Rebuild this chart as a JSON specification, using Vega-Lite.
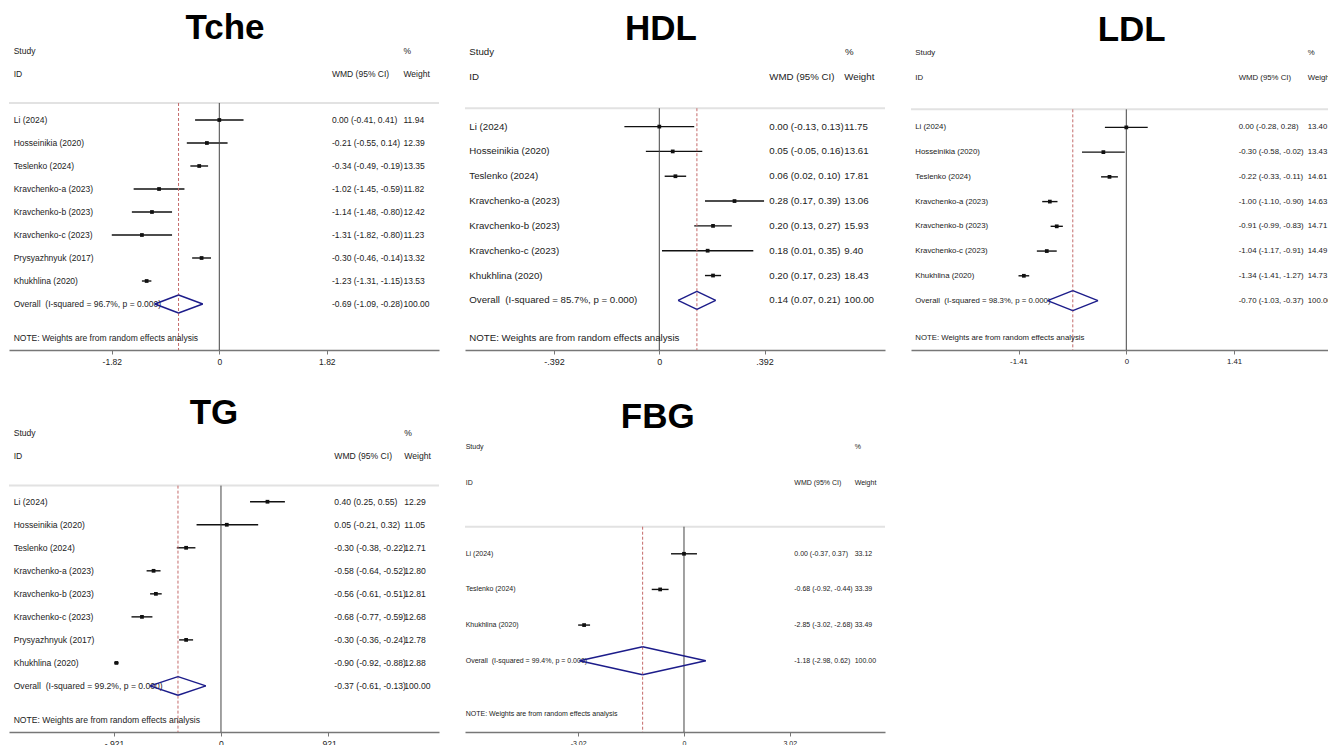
{
"$schema": "https://vega.github.io/schema/vega-lite/v6.json",
"padding": {"left": 8, "top": 0, "right": 0, "bottom": 0},
"bounds": "flush",
"columns": 3,
"spacing": {"row": 32, "column": 26},
"config": {
  "view": {"stroke": null},
  "font": "Liberation Sans",
  "axis": {"domainColor": "#777", "domainWidth": 1.6, "tickColor": "#777", "tickWidth": 1, "tickSize": 4, "labelPadding": 3, "grid": false, "labelColor": "#222", "labelFont": "Liberation Sans", "labelFlush": false, "labelOverlap": false, "titleOpacity": 0},
  "text": {"align": "left", "baseline": "middle", "color": "#222"}
},
"datasets": {
  "tche": [
    {"study": "Li (2024)", "row": 1, "est": 0.00, "lo": -0.41, "hi": 0.41, "ci": "0.00 (-0.41, 0.41)", "w": "11.94", "overall": false},
    {"study": "Hosseinikia (2020)", "row": 2, "est": -0.21, "lo": -0.55, "hi": 0.14, "ci": "-0.21 (-0.55, 0.14)", "w": "12.39", "overall": false},
    {"study": "Teslenko (2024)", "row": 3, "est": -0.34, "lo": -0.49, "hi": -0.19, "ci": "-0.34 (-0.49, -0.19)", "w": "13.35", "overall": false},
    {"study": "Kravchenko-a (2023)", "row": 4, "est": -1.02, "lo": -1.45, "hi": -0.59, "ci": "-1.02 (-1.45, -0.59)", "w": "11.82", "overall": false},
    {"study": "Kravchenko-b (2023)", "row": 5, "est": -1.14, "lo": -1.48, "hi": -0.80, "ci": "-1.14 (-1.48, -0.80)", "w": "12.42", "overall": false},
    {"study": "Kravchenko-c (2023)", "row": 6, "est": -1.31, "lo": -1.82, "hi": -0.80, "ci": "-1.31 (-1.82, -0.80)", "w": "11.23", "overall": false},
    {"study": "Prysyazhnyuk (2017)", "row": 7, "est": -0.30, "lo": -0.46, "hi": -0.14, "ci": "-0.30 (-0.46, -0.14)", "w": "13.32", "overall": false},
    {"study": "Khukhlina (2020)", "row": 8, "est": -1.23, "lo": -1.31, "hi": -1.15, "ci": "-1.23 (-1.31, -1.15)", "w": "13.53", "overall": false},
    {"study": "Overall \u00a0(I-squared = 96.7%, p = 0.000)", "row": 9, "est": -0.69, "lo": -1.09, "hi": -0.28, "ci": "-0.69 (-1.09, -0.28)", "w": "100.00", "overall": true}
  ],
  "hdl": [
    {"study": "Li (2024)", "row": 1, "est": 0.00, "lo": -0.13, "hi": 0.13, "ci": "0.00 (-0.13, 0.13)", "w": "11.75", "overall": false},
    {"study": "Hosseinikia (2020)", "row": 2, "est": 0.05, "lo": -0.05, "hi": 0.16, "ci": "0.05 (-0.05, 0.16)", "w": "13.61", "overall": false},
    {"study": "Teslenko (2024)", "row": 3, "est": 0.06, "lo": 0.02, "hi": 0.10, "ci": "0.06 (0.02, 0.10)", "w": "17.81", "overall": false},
    {"study": "Kravchenko-a (2023)", "row": 4, "est": 0.28, "lo": 0.17, "hi": 0.39, "ci": "0.28 (0.17, 0.39)", "w": "13.06", "overall": false},
    {"study": "Kravchenko-b (2023)", "row": 5, "est": 0.20, "lo": 0.13, "hi": 0.27, "ci": "0.20 (0.13, 0.27)", "w": "15.93", "overall": false},
    {"study": "Kravchenko-c (2023)", "row": 6, "est": 0.18, "lo": 0.01, "hi": 0.35, "ci": "0.18 (0.01, 0.35)", "w": "9.40", "overall": false},
    {"study": "Khukhlina (2020)", "row": 7, "est": 0.20, "lo": 0.17, "hi": 0.23, "ci": "0.20 (0.17, 0.23)", "w": "18.43", "overall": false},
    {"study": "Overall \u00a0(I-squared = 85.7%, p = 0.000)", "row": 8, "est": 0.14, "lo": 0.07, "hi": 0.21, "ci": "0.14 (0.07, 0.21)", "w": "100.00", "overall": true}
  ],
  "ldl": [
    {"study": "Li (2024)", "row": 1, "est": 0.00, "lo": -0.28, "hi": 0.28, "ci": "0.00 (-0.28, 0.28)", "w": "13.40", "overall": false},
    {"study": "Hosseinikia (2020)", "row": 2, "est": -0.30, "lo": -0.58, "hi": -0.02, "ci": "-0.30 (-0.58, -0.02)", "w": "13.43", "overall": false},
    {"study": "Teslenko (2024)", "row": 3, "est": -0.22, "lo": -0.33, "hi": -0.11, "ci": "-0.22 (-0.33, -0.11)", "w": "14.61", "overall": false},
    {"study": "Kravchenko-a (2023)", "row": 4, "est": -1.00, "lo": -1.10, "hi": -0.90, "ci": "-1.00 (-1.10, -0.90)", "w": "14.63", "overall": false},
    {"study": "Kravchenko-b (2023)", "row": 5, "est": -0.91, "lo": -0.99, "hi": -0.83, "ci": "-0.91 (-0.99, -0.83)", "w": "14.71", "overall": false},
    {"study": "Kravchenko-c (2023)", "row": 6, "est": -1.04, "lo": -1.17, "hi": -0.91, "ci": "-1.04 (-1.17, -0.91)", "w": "14.49", "overall": false},
    {"study": "Khukhlina (2020)", "row": 7, "est": -1.34, "lo": -1.41, "hi": -1.27, "ci": "-1.34 (-1.41, -1.27)", "w": "14.73", "overall": false},
    {"study": "Overall \u00a0(I-squared = 98.3%, p = 0.000)", "row": 8, "est": -0.70, "lo": -1.03, "hi": -0.37, "ci": "-0.70 (-1.03, -0.37)", "w": "100.00", "overall": true}
  ],
  "tg": [
    {"study": "Li (2024)", "row": 1, "est": 0.40, "lo": 0.25, "hi": 0.55, "ci": "0.40 (0.25, 0.55)", "w": "12.29", "overall": false},
    {"study": "Hosseinikia (2020)", "row": 2, "est": 0.05, "lo": -0.21, "hi": 0.32, "ci": "0.05 (-0.21, 0.32)", "w": "11.05", "overall": false},
    {"study": "Teslenko (2024)", "row": 3, "est": -0.30, "lo": -0.38, "hi": -0.22, "ci": "-0.30 (-0.38, -0.22)", "w": "12.71", "overall": false},
    {"study": "Kravchenko-a (2023)", "row": 4, "est": -0.58, "lo": -0.64, "hi": -0.52, "ci": "-0.58 (-0.64, -0.52)", "w": "12.80", "overall": false},
    {"study": "Kravchenko-b (2023)", "row": 5, "est": -0.56, "lo": -0.61, "hi": -0.51, "ci": "-0.56 (-0.61, -0.51)", "w": "12.81", "overall": false},
    {"study": "Kravchenko-c (2023)", "row": 6, "est": -0.68, "lo": -0.77, "hi": -0.59, "ci": "-0.68 (-0.77, -0.59)", "w": "12.68", "overall": false},
    {"study": "Prysyazhnyuk (2017)", "row": 7, "est": -0.30, "lo": -0.36, "hi": -0.24, "ci": "-0.30 (-0.36, -0.24)", "w": "12.78", "overall": false},
    {"study": "Khukhlina (2020)", "row": 8, "est": -0.90, "lo": -0.92, "hi": -0.88, "ci": "-0.90 (-0.92, -0.88)", "w": "12.88", "overall": false},
    {"study": "Overall \u00a0(I-squared = 99.2%, p = 0.000)", "row": 9, "est": -0.37, "lo": -0.61, "hi": -0.13, "ci": "-0.37 (-0.61, -0.13)", "w": "100.00", "overall": true}
  ],
  "fbg": [
    {"study": "Li (2024)", "row": 1, "est": 0.00, "lo": -0.37, "hi": 0.37, "ci": "0.00 (-0.37, 0.37)", "w": "33.12", "overall": false},
    {"study": "Teslenko (2024)", "row": 2, "est": -0.68, "lo": -0.92, "hi": -0.44, "ci": "-0.68 (-0.92, -0.44)", "w": "33.39", "overall": false},
    {"study": "Khukhlina (2020)", "row": 3, "est": -2.85, "lo": -3.02, "hi": -2.68, "ci": "-2.85 (-3.02, -2.68)", "w": "33.49", "overall": false},
    {"study": "Overall \u00a0(I-squared = 99.4%, p = 0.000)", "row": 4, "est": -1.18, "lo": -2.98, "hi": 0.62, "ci": "-1.18 (-2.98, 0.62)", "w": "100.00", "overall": true}
  ]
},
"concat": [
  {"width": 430, "height": 350, "data": {"name": "tche"},
   "encoding": {"y": {"field": "row", "type": "quantitative", "scale": {"domain": [-4.217, 11], "reverse": true, "nice": false, "zero": false}, "axis": null}},
   "layer": [
    {"transform": [{"filter": "!datum.overall"}], "mark": {"type": "rule", "color": "#111", "strokeWidth": 1.4},
     "encoding": {"x": {"field": "lo", "type": "quantitative", "title": null, "scale": {"domain": [-3.560, 3.719], "nice": false, "zero": false}, "axis": {"values": [-1.82, 0, 1.82], "labelExpr": "datum.value < 0 ? '-1.82' : datum.value > 0 ? '1.82' : '0'", "title": null, "labelFontSize": 8.5}}, "x2": {"field": "hi"}}},
    {"transform": [{"filter": "datum.overall"}], "mark": {"type": "rule", "color": "#e2e2e2", "strokeWidth": 2}, "encoding": {"x": {"datum": -3.560}, "x2": {"datum": 3.719}, "y": {"datum": 0.26, "axis": null}}},
    {"transform": [{"filter": "datum.overall"}], "mark": {"type": "rule", "color": "#444", "strokeWidth": 1}, "encoding": {"x": {"datum": 0}, "y": {"datum": 0.26, "axis": null}, "y2": {"datum": 11}}},
    {"transform": [{"filter": "datum.overall"}], "mark": {"type": "rule", "color": "#c46a6a", "strokeWidth": 1, "strokeDash": [3, 2]}, "encoding": {"x": {"field": "est", "type": "quantitative", "title": null}, "y": {"datum": 0.26, "axis": null}, "y2": {"datum": 11}}},
    {"transform": [{"filter": "!datum.overall"}], "mark": {"type": "point", "shape": "square", "filled": true, "size": 14, "color": "#111", "opacity": 1}, "encoding": {"x": {"field": "est", "type": "quantitative", "title": null}}},
    {"mark": {"type": "text", "fontSize": 8.5}, "encoding": {"x": {"datum": -3.481}, "text": {"field": "study"}}},
    {"mark": {"type": "text", "fontSize": 8.5}, "encoding": {"x": {"datum": 1.908}, "text": {"field": "ci"}}},
    {"mark": {"type": "text", "fontSize": 8.5}, "encoding": {"x": {"datum": 3.118}, "text": {"field": "w"}}},
    {"transform": [{"filter": "datum.overall"}], "mark": {"type": "text", "fontSize": 8.5, "text": "Study"}, "encoding": {"x": {"datum": -3.481}, "y": {"datum": -2, "axis": null}}},
    {"transform": [{"filter": "datum.overall"}], "mark": {"type": "text", "fontSize": 8.5, "text": "ID"}, "encoding": {"x": {"datum": -3.481}, "y": {"datum": -1, "axis": null}}},
    {"transform": [{"filter": "datum.overall"}], "mark": {"type": "text", "fontSize": 8.5, "text": "%"}, "encoding": {"x": {"datum": 3.118}, "y": {"datum": -2, "axis": null}}},
    {"transform": [{"filter": "datum.overall"}], "mark": {"type": "text", "fontSize": 8.5, "text": "WMD (95% CI)"}, "encoding": {"x": {"datum": 1.908}, "y": {"datum": -1, "axis": null}}},
    {"transform": [{"filter": "datum.overall"}], "mark": {"type": "text", "fontSize": 8.5, "text": "Weight"}, "encoding": {"x": {"datum": 3.118}, "y": {"datum": -1, "axis": null}}},
    {"transform": [{"filter": "datum.overall"}], "mark": {"type": "text", "fontSize": 8.5, "text": "NOTE: Weights are from random effects analysis"}, "encoding": {"x": {"datum": -3.481}, "y": {"datum": 10.5, "axis": null}}},
    {"transform": [{"filter": "datum.overall"}], "mark": {"type": "text", "fontSize": 35, "fontWeight": "bold", "align": "center", "color": "#000", "text": "Tche"}, "encoding": {"x": {"datum": 0.096}, "y": {"datum": -3.0, "axis": null}}},
    {"transform": [{"filter": "datum.overall"}], "mark": {"type": "rule", "color": "#1c1c8a", "strokeWidth": 1.4, "y2Offset": -9}, "encoding": {"x": {"field": "lo", "type": "quantitative", "title": null}, "x2": {"field": "est"}, "y2": {"field": "row"}}},
    {"transform": [{"filter": "datum.overall"}], "mark": {"type": "rule", "color": "#1c1c8a", "strokeWidth": 1.4, "yOffset": -9}, "encoding": {"x": {"field": "est", "type": "quantitative", "title": null}, "x2": {"field": "hi"}, "y2": {"field": "row"}}},
    {"transform": [{"filter": "datum.overall"}], "mark": {"type": "rule", "color": "#1c1c8a", "strokeWidth": 1.4, "y2Offset": 9}, "encoding": {"x": {"field": "hi", "type": "quantitative", "title": null}, "x2": {"field": "est"}, "y2": {"field": "row"}}},
    {"transform": [{"filter": "datum.overall"}], "mark": {"type": "rule", "color": "#1c1c8a", "strokeWidth": 1.4, "yOffset": 9}, "encoding": {"x": {"field": "est", "type": "quantitative", "title": null}, "x2": {"field": "lo"}, "y2": {"field": "row"}}}
   ]},
  {"width": 420, "height": 350, "data": {"name": "hdl"},
   "encoding": {"y": {"field": "row", "type": "quantitative", "scale": {"domain": [-4.1, 10], "reverse": true, "nice": false, "zero": false}, "axis": null}},
   "layer": [
    {"transform": [{"filter": "!datum.overall"}], "mark": {"type": "rule", "color": "#111", "strokeWidth": 1.4},
     "encoding": {"x": {"field": "lo", "type": "quantitative", "title": null, "scale": {"domain": [-0.7234, 0.8403], "nice": false, "zero": false}, "axis": {"values": [-0.392, 0, 0.392], "labelExpr": "datum.value < 0 ? '-.392' : datum.value > 0 ? '.392' : '0'", "title": null, "labelFontSize": 9}}, "x2": {"field": "hi"}}},
    {"transform": [{"filter": "datum.overall"}], "mark": {"type": "rule", "color": "#e2e2e2", "strokeWidth": 2}, "encoding": {"x": {"datum": -0.7234}, "x2": {"datum": 0.8403}, "y": {"datum": 0.26, "axis": null}}},
    {"transform": [{"filter": "datum.overall"}], "mark": {"type": "rule", "color": "#444", "strokeWidth": 1}, "encoding": {"x": {"datum": 0}, "y": {"datum": 0.26, "axis": null}, "y2": {"datum": 10}}},
    {"transform": [{"filter": "datum.overall"}], "mark": {"type": "rule", "color": "#c46a6a", "strokeWidth": 1, "strokeDash": [3, 2]}, "encoding": {"x": {"field": "est", "type": "quantitative", "title": null}, "y": {"datum": 0.26, "axis": null}, "y2": {"datum": 10}}},
    {"transform": [{"filter": "!datum.overall"}], "mark": {"type": "point", "shape": "square", "filled": true, "size": 14, "color": "#111", "opacity": 1}, "encoding": {"x": {"field": "est", "type": "quantitative", "title": null}}},
    {"mark": {"type": "text", "fontSize": 9.7}, "encoding": {"x": {"datum": -0.7074}, "text": {"field": "study"}}},
    {"mark": {"type": "text", "fontSize": 9.7}, "encoding": {"x": {"datum": 0.4095}, "text": {"field": "ci"}}},
    {"mark": {"type": "text", "fontSize": 9.7}, "encoding": {"x": {"datum": 0.689}, "text": {"field": "w"}}},
    {"transform": [{"filter": "datum.overall"}], "mark": {"type": "text", "fontSize": 9.7, "text": "Study"}, "encoding": {"x": {"datum": -0.7074}, "y": {"datum": -2, "axis": null}}},
    {"transform": [{"filter": "datum.overall"}], "mark": {"type": "text", "fontSize": 9.7, "text": "ID"}, "encoding": {"x": {"datum": -0.7074}, "y": {"datum": -1, "axis": null}}},
    {"transform": [{"filter": "datum.overall"}], "mark": {"type": "text", "fontSize": 9.7, "text": "%"}, "encoding": {"x": {"datum": 0.691}, "y": {"datum": -2, "axis": null}}},
    {"transform": [{"filter": "datum.overall"}], "mark": {"type": "text", "fontSize": 9.7, "text": "WMD (95% CI)"}, "encoding": {"x": {"datum": 0.4095}, "y": {"datum": -1, "axis": null}}},
    {"transform": [{"filter": "datum.overall"}], "mark": {"type": "text", "fontSize": 9.7, "text": "Weight"}, "encoding": {"x": {"datum": 0.689}, "y": {"datum": -1, "axis": null}}},
    {"transform": [{"filter": "datum.overall"}], "mark": {"type": "text", "fontSize": 9.7, "text": "NOTE: Weights are from random effects analysis"}, "encoding": {"x": {"datum": -0.7074}, "y": {"datum": 9.5, "axis": null}}},
    {"transform": [{"filter": "datum.overall"}], "mark": {"type": "text", "fontSize": 35, "fontWeight": "bold", "align": "center", "color": "#000", "text": "HDL"}, "encoding": {"x": {"datum": 0.006}, "y": {"datum": -2.93, "axis": null}}},
    {"transform": [{"filter": "datum.overall"}], "mark": {"type": "rule", "color": "#1c1c8a", "strokeWidth": 1.4, "y2Offset": -9}, "encoding": {"x": {"field": "lo", "type": "quantitative", "title": null}, "x2": {"field": "est"}, "y2": {"field": "row"}}},
    {"transform": [{"filter": "datum.overall"}], "mark": {"type": "rule", "color": "#1c1c8a", "strokeWidth": 1.4, "yOffset": -9}, "encoding": {"x": {"field": "est", "type": "quantitative", "title": null}, "x2": {"field": "hi"}, "y2": {"field": "row"}}},
    {"transform": [{"filter": "datum.overall"}], "mark": {"type": "rule", "color": "#1c1c8a", "strokeWidth": 1.4, "y2Offset": 9}, "encoding": {"x": {"field": "hi", "type": "quantitative", "title": null}, "x2": {"field": "est"}, "y2": {"field": "row"}}},
    {"transform": [{"filter": "datum.overall"}], "mark": {"type": "rule", "color": "#1c1c8a", "strokeWidth": 1.4, "yOffset": 9}, "encoding": {"x": {"field": "est", "type": "quantitative", "title": null}, "x2": {"field": "lo"}, "y2": {"field": "row"}}}
   ]},
  {"width": 418, "height": 350, "data": {"name": "ldl"},
   "encoding": {"y": {"field": "row", "type": "quantitative", "scale": {"domain": [-4.15, 10], "reverse": true, "nice": false, "zero": false}, "axis": null}},
   "layer": [
    {"transform": [{"filter": "!datum.overall"}], "mark": {"type": "rule", "color": "#111", "strokeWidth": 1.4},
     "encoding": {"x": {"field": "lo", "type": "quantitative", "title": null, "scale": {"domain": [-2.816, 2.651], "nice": false, "zero": false}, "axis": {"values": [-1.41, 0, 1.41], "labelExpr": "datum.value < 0 ? '-1.41' : datum.value > 0 ? '1.41' : '0'", "title": null, "labelFontSize": 7.8}}, "x2": {"field": "hi"}}},
    {"transform": [{"filter": "datum.overall"}], "mark": {"type": "rule", "color": "#e2e2e2", "strokeWidth": 2}, "encoding": {"x": {"datum": -2.816}, "x2": {"datum": 2.651}, "y": {"datum": 0.27, "axis": null}}},
    {"transform": [{"filter": "datum.overall"}], "mark": {"type": "rule", "color": "#444", "strokeWidth": 1}, "encoding": {"x": {"datum": 0}, "y": {"datum": 0.27, "axis": null}, "y2": {"datum": 10}}},
    {"transform": [{"filter": "datum.overall"}], "mark": {"type": "rule", "color": "#c46a6a", "strokeWidth": 1, "strokeDash": [3, 2]}, "encoding": {"x": {"field": "est", "type": "quantitative", "title": null}, "y": {"datum": 0.27, "axis": null}, "y2": {"datum": 10}}},
    {"transform": [{"filter": "!datum.overall"}], "mark": {"type": "point", "shape": "square", "filled": true, "size": 14, "color": "#111", "opacity": 1}, "encoding": {"x": {"field": "est", "type": "quantitative", "title": null}}},
    {"mark": {"type": "text", "fontSize": 7.8}, "encoding": {"x": {"datum": -2.760}, "text": {"field": "study"}}},
    {"mark": {"type": "text", "fontSize": 7.8}, "encoding": {"x": {"datum": 1.470}, "text": {"field": "ci"}}},
    {"mark": {"type": "text", "fontSize": 7.8, "clip": true}, "encoding": {"x": {"datum": 2.373}, "text": {"field": "w"}}},
    {"transform": [{"filter": "datum.overall"}], "mark": {"type": "text", "fontSize": 7.8, "text": "Study"}, "encoding": {"x": {"datum": -2.760}, "y": {"datum": -2, "axis": null}}},
    {"transform": [{"filter": "datum.overall"}], "mark": {"type": "text", "fontSize": 7.8, "text": "ID"}, "encoding": {"x": {"datum": -2.760}, "y": {"datum": -1, "axis": null}}},
    {"transform": [{"filter": "datum.overall"}], "mark": {"type": "text", "fontSize": 7.8, "text": "%", "clip": true}, "encoding": {"x": {"datum": 2.373}, "y": {"datum": -2, "axis": null}}},
    {"transform": [{"filter": "datum.overall"}], "mark": {"type": "text", "fontSize": 7.8, "text": "WMD (95% CI)"}, "encoding": {"x": {"datum": 1.470}, "y": {"datum": -1, "axis": null}}},
    {"transform": [{"filter": "datum.overall"}], "mark": {"type": "text", "fontSize": 7.8, "text": "Weight", "clip": true}, "encoding": {"x": {"datum": 2.373}, "y": {"datum": -1, "axis": null}}},
    {"transform": [{"filter": "datum.overall"}], "mark": {"type": "text", "fontSize": 7.8, "text": "NOTE: Weights are from random effects analysis"}, "encoding": {"x": {"datum": -2.760}, "y": {"datum": 9.5, "axis": null}}},
    {"transform": [{"filter": "datum.overall"}], "mark": {"type": "text", "fontSize": 35, "fontWeight": "bold", "align": "center", "color": "#000", "text": "LDL"}, "encoding": {"x": {"datum": 0.07}, "y": {"datum": -2.95, "axis": null}}},
    {"transform": [{"filter": "datum.overall"}], "mark": {"type": "rule", "color": "#1c1c8a", "strokeWidth": 1.4, "y2Offset": -10}, "encoding": {"x": {"field": "lo", "type": "quantitative", "title": null}, "x2": {"field": "est"}, "y2": {"field": "row"}}},
    {"transform": [{"filter": "datum.overall"}], "mark": {"type": "rule", "color": "#1c1c8a", "strokeWidth": 1.4, "yOffset": -10}, "encoding": {"x": {"field": "est", "type": "quantitative", "title": null}, "x2": {"field": "hi"}, "y2": {"field": "row"}}},
    {"transform": [{"filter": "datum.overall"}], "mark": {"type": "rule", "color": "#1c1c8a", "strokeWidth": 1.4, "y2Offset": 10}, "encoding": {"x": {"field": "hi", "type": "quantitative", "title": null}, "x2": {"field": "est"}, "y2": {"field": "row"}}},
    {"transform": [{"filter": "datum.overall"}], "mark": {"type": "rule", "color": "#1c1c8a", "strokeWidth": 1.4, "yOffset": 10}, "encoding": {"x": {"field": "est", "type": "quantitative", "title": null}, "x2": {"field": "lo"}, "y2": {"field": "row"}}}
   ]},
  {"width": 430, "height": 350, "data": {"name": "tg"},
   "encoding": {"y": {"field": "row", "type": "quantitative", "scale": {"domain": [-4.2, 11], "reverse": true, "nice": false, "zero": false}, "axis": null}},
   "layer": [
    {"transform": [{"filter": "!datum.overall"}], "mark": {"type": "rule", "color": "#111", "strokeWidth": 1.4},
     "encoding": {"x": {"field": "lo", "type": "quantitative", "title": null, "scale": {"domain": [-1.824, 1.876], "nice": false, "zero": false}, "axis": {"values": [-0.921, 0, 0.921], "labelExpr": "datum.value < 0 ? '-.921' : datum.value > 0 ? '.921' : '0'", "title": null, "labelFontSize": 8.6}}, "x2": {"field": "hi"}}},
    {"transform": [{"filter": "datum.overall"}], "mark": {"type": "rule", "color": "#e2e2e2", "strokeWidth": 2}, "encoding": {"x": {"datum": -1.824}, "x2": {"datum": 1.876}, "y": {"datum": 0.3, "axis": null}}},
    {"transform": [{"filter": "datum.overall"}], "mark": {"type": "rule", "color": "#444", "strokeWidth": 1}, "encoding": {"x": {"datum": 0}, "y": {"datum": 0.3, "axis": null}, "y2": {"datum": 11}}},
    {"transform": [{"filter": "datum.overall"}], "mark": {"type": "rule", "color": "#c46a6a", "strokeWidth": 1, "strokeDash": [3, 2]}, "encoding": {"x": {"field": "est", "type": "quantitative", "title": null}, "y": {"datum": 0.3, "axis": null}, "y2": {"datum": 11}}},
    {"transform": [{"filter": "!datum.overall"}], "mark": {"type": "point", "shape": "square", "filled": true, "size": 14, "color": "#111", "opacity": 1}, "encoding": {"x": {"field": "est", "type": "quantitative", "title": null}}},
    {"mark": {"type": "text", "fontSize": 8.6}, "encoding": {"x": {"datum": -1.784}, "text": {"field": "study"}}},
    {"mark": {"type": "text", "fontSize": 8.6}, "encoding": {"x": {"datum": 0.975}, "text": {"field": "ci"}}},
    {"mark": {"type": "text", "fontSize": 8.6}, "encoding": {"x": {"datum": 1.577}, "text": {"field": "w"}}},
    {"transform": [{"filter": "datum.overall"}], "mark": {"type": "text", "fontSize": 8.6, "text": "Study"}, "encoding": {"x": {"datum": -1.784}, "y": {"datum": -2, "axis": null}}},
    {"transform": [{"filter": "datum.overall"}], "mark": {"type": "text", "fontSize": 8.6, "text": "ID"}, "encoding": {"x": {"datum": -1.784}, "y": {"datum": -1, "axis": null}}},
    {"transform": [{"filter": "datum.overall"}], "mark": {"type": "text", "fontSize": 8.6, "text": "%"}, "encoding": {"x": {"datum": 1.577}, "y": {"datum": -2, "axis": null}}},
    {"transform": [{"filter": "datum.overall"}], "mark": {"type": "text", "fontSize": 8.6, "text": "WMD (95% CI)"}, "encoding": {"x": {"datum": 0.975}, "y": {"datum": -1, "axis": null}}},
    {"transform": [{"filter": "datum.overall"}], "mark": {"type": "text", "fontSize": 8.6, "text": "Weight"}, "encoding": {"x": {"datum": 1.577}, "y": {"datum": -1, "axis": null}}},
    {"transform": [{"filter": "datum.overall"}], "mark": {"type": "text", "fontSize": 8.6, "text": "NOTE: Weights are from random effects analysis"}, "encoding": {"x": {"datum": -1.784}, "y": {"datum": 10.5, "axis": null}}},
    {"transform": [{"filter": "datum.overall"}], "mark": {"type": "text", "fontSize": 35, "fontWeight": "bold", "align": "center", "color": "#000", "text": "TG"}, "encoding": {"x": {"datum": -0.06}, "y": {"datum": -2.84, "axis": null}}},
    {"transform": [{"filter": "datum.overall"}], "mark": {"type": "rule", "color": "#1c1c8a", "strokeWidth": 1.4, "y2Offset": -9.3}, "encoding": {"x": {"field": "lo", "type": "quantitative", "title": null}, "x2": {"field": "est"}, "y2": {"field": "row"}}},
    {"transform": [{"filter": "datum.overall"}], "mark": {"type": "rule", "color": "#1c1c8a", "strokeWidth": 1.4, "yOffset": -9.3}, "encoding": {"x": {"field": "est", "type": "quantitative", "title": null}, "x2": {"field": "hi"}, "y2": {"field": "row"}}},
    {"transform": [{"filter": "datum.overall"}], "mark": {"type": "rule", "color": "#1c1c8a", "strokeWidth": 1.4, "y2Offset": 9.3}, "encoding": {"x": {"field": "hi", "type": "quantitative", "title": null}, "x2": {"field": "est"}, "y2": {"field": "row"}}},
    {"transform": [{"filter": "datum.overall"}], "mark": {"type": "rule", "color": "#1c1c8a", "strokeWidth": 1.4, "yOffset": 9.3}, "encoding": {"x": {"field": "est", "type": "quantitative", "title": null}, "x2": {"field": "lo"}, "y2": {"field": "row"}}}
   ]},
  {"width": 420, "height": 350, "data": {"name": "fbg"},
   "encoding": {"y": {"field": "row", "type": "quantitative", "scale": {"domain": [-3.82, 6], "reverse": true, "nice": false, "zero": false}, "axis": null}},
   "layer": [
    {"transform": [{"filter": "!datum.overall"}], "mark": {"type": "rule", "color": "#111", "strokeWidth": 1.4},
     "encoding": {"x": {"field": "lo", "type": "quantitative", "title": null, "scale": {"domain": [-6.248, 5.735], "nice": false, "zero": false}, "axis": {"values": [-3.02, 0, 3.02], "labelExpr": "datum.value < 0 ? '-3.02' : datum.value > 0 ? '3.02' : '0'", "title": null, "labelFontSize": 7}}, "x2": {"field": "hi"}}},
    {"transform": [{"filter": "datum.overall"}], "mark": {"type": "rule", "color": "#e2e2e2", "strokeWidth": 2}, "encoding": {"x": {"datum": -6.248}, "x2": {"datum": 5.735}, "y": {"datum": 0.24, "axis": null}}},
    {"transform": [{"filter": "datum.overall"}], "mark": {"type": "rule", "color": "#444", "strokeWidth": 1}, "encoding": {"x": {"datum": 0}, "y": {"datum": 0.24, "axis": null}, "y2": {"datum": 6}}},
    {"transform": [{"filter": "datum.overall"}], "mark": {"type": "rule", "color": "#c46a6a", "strokeWidth": 1, "strokeDash": [3, 2]}, "encoding": {"x": {"field": "est", "type": "quantitative", "title": null}, "y": {"datum": 0.24, "axis": null}, "y2": {"datum": 6}}},
    {"transform": [{"filter": "!datum.overall"}], "mark": {"type": "point", "shape": "square", "filled": true, "size": 14, "color": "#111", "opacity": 1}, "encoding": {"x": {"field": "est", "type": "quantitative", "title": null}}},
    {"mark": {"type": "text", "fontSize": 7}, "encoding": {"x": {"datum": -6.228}, "text": {"field": "study"}}},
    {"mark": {"type": "text", "fontSize": 7}, "encoding": {"x": {"datum": 3.147}, "text": {"field": "ci"}}},
    {"mark": {"type": "text", "fontSize": 7}, "encoding": {"x": {"datum": 4.870}, "text": {"field": "w"}}},
    {"transform": [{"filter": "datum.overall"}], "mark": {"type": "text", "fontSize": 7, "text": "Study"}, "encoding": {"x": {"datum": -6.228}, "y": {"datum": -2, "axis": null}}},
    {"transform": [{"filter": "datum.overall"}], "mark": {"type": "text", "fontSize": 7, "text": "ID"}, "encoding": {"x": {"datum": -6.228}, "y": {"datum": -1, "axis": null}}},
    {"transform": [{"filter": "datum.overall"}], "mark": {"type": "text", "fontSize": 7, "text": "%"}, "encoding": {"x": {"datum": 4.870}, "y": {"datum": -2, "axis": null}}},
    {"transform": [{"filter": "datum.overall"}], "mark": {"type": "text", "fontSize": 7, "text": "WMD (95% CI)"}, "encoding": {"x": {"datum": 3.147}, "y": {"datum": -1, "axis": null}}},
    {"transform": [{"filter": "datum.overall"}], "mark": {"type": "text", "fontSize": 7, "text": "Weight"}, "encoding": {"x": {"datum": 4.870}, "y": {"datum": -1, "axis": null}}},
    {"transform": [{"filter": "datum.overall"}], "mark": {"type": "text", "fontSize": 7, "text": "NOTE: Weights are from random effects analysis"}, "encoding": {"x": {"datum": -6.228}, "y": {"datum": 5.5, "axis": null}}},
    {"transform": [{"filter": "datum.overall"}], "mark": {"type": "text", "fontSize": 35, "fontWeight": "bold", "align": "center", "color": "#000", "text": "FBG"}, "encoding": {"x": {"datum": -0.75}, "y": {"datum": -2.85, "axis": null}}},
    {"transform": [{"filter": "datum.overall"}], "mark": {"type": "rule", "color": "#1c1c8a", "strokeWidth": 1.4, "y2Offset": -14}, "encoding": {"x": {"field": "lo", "type": "quantitative", "title": null}, "x2": {"field": "est"}, "y2": {"field": "row"}}},
    {"transform": [{"filter": "datum.overall"}], "mark": {"type": "rule", "color": "#1c1c8a", "strokeWidth": 1.4, "yOffset": -14}, "encoding": {"x": {"field": "est", "type": "quantitative", "title": null}, "x2": {"field": "hi"}, "y2": {"field": "row"}}},
    {"transform": [{"filter": "datum.overall"}], "mark": {"type": "rule", "color": "#1c1c8a", "strokeWidth": 1.4, "y2Offset": 14}, "encoding": {"x": {"field": "hi", "type": "quantitative", "title": null}, "x2": {"field": "est"}, "y2": {"field": "row"}}},
    {"transform": [{"filter": "datum.overall"}], "mark": {"type": "rule", "color": "#1c1c8a", "strokeWidth": 1.4, "yOffset": 14}, "encoding": {"x": {"field": "est", "type": "quantitative", "title": null}, "x2": {"field": "lo"}, "y2": {"field": "row"}}}
   ]}
]
}
